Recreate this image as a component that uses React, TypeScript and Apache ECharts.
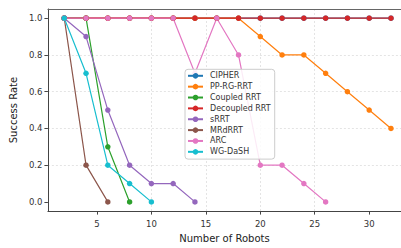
import React, { useEffect, useRef } from "react";
import * as echarts from "echarts";

const robots = [2, 4, 6, 8, 10, 12, 14, 16, 18, 20, 22, 24, 26, 28, 30, 32];
const cipher = [1, 1, 1, 1, 1, 1, 1, 1, 1, 1, 1, 1, 1, 1, 1, 1];
const ppRgRrt = [1, 1, 1, 1, 1, 1, 1, 1, 1, 0.9, 0.8, 0.8, 0.7, 0.6, 0.5, 0.4];
const coupledRrt = [1, 1, 0.3, 0.0];
const decoupledRrt = [1, 1, 1, 1, 1, 1, 1, 1, 1, 1, 1, 1, 1, 1, 1, 1];
const sRrt = [1, 0.9, 0.5, 0.2, 0.1, 0.1, 0.0];
const mrdRrt = [1, 0.2, 0.0];
const arc = [1, 1, 1, 1, 1, 1, 0.7, 1, 0.8, 0.2, 0.2, 0.1, 0.0];
const wgDash = [1, 0.7, 0.2, 0.1, 0.0];

const xTicks = [5, 10, 15, 20, 25, 30];
const yTicks = [0, 0.2, 0.4, 0.6, 0.8, 1.0];

const seriesDefs: [string, number[], string][] = [
  ["CIPHER", cipher, "#1f77b4"],
  ["PP-RG-RRT", ppRgRrt, "#ff7f0e"],
  ["Coupled RRT", coupledRrt, "#2ca02c"],
  ["Decoupled RRT", decoupledRrt, "#d62728"],
  ["sRRT", sRrt, "#9467bd"],
  ["MRdRRT", mrdRrt, "#8c564b"],
  ["ARC", arc, "#e377c2"],
  ["WG-DaSH", wgDash, "#17becf"],
];

export default function App() {
  const ref = useRef<HTMLDivElement>(null);
  useEffect(() => {
    if (!ref.current) return;
    const chart = echarts.init(ref.current, null, { renderer: "svg" });
    const font = "DejaVu Sans";
    const gridLine = {
      show: true,
      showMinLine: false,
      showMaxLine: false,
      lineStyle: { color: "#ddd", type: [2, 2], width: 0.8 },
    };
    chart.setOption({
      animation: false,
      textStyle: { fontFamily: font },
      grid: { left: 45, top: 9, bottom: 28, right: 0 },
      legend: {
        orient: "vertical",
        left: 185,
        top: 69.3,
        itemWidth: 15,
        itemHeight: 7,
        itemGap: 0.86,
        padding: [1.5, 4, 2.3, 2],
        backgroundColor: "rgba(255,255,255,0.85)",
        borderColor: "#ccc",
        borderWidth: 1,
        borderRadius: 3,
        textStyle: { fontFamily: font, fontSize: 8, lineHeight: 10, color: "#333", padding: [0, 0, 0, 2] },
        data: seriesDefs.map((d) => d[0]),
      },
      xAxis: [
        {
          type: "value",
          min: 0.5,
          max: 32.92,
          name: "Number of Robots",
          nameLocation: "middle",
          nameGap: 17,
          nameTextStyle: { fontFamily: font, fontSize: 10, color: "#222" },
          axisLine: { show: true, onZero: false, lineStyle: { color: "#444", width: 1 } },
          axisTick: { show: true, length: 3.5, customValues: xTicks, lineStyle: { color: "#444" } },
          axisLabel: { customValues: xTicks, fontFamily: font, fontSize: 8.5, color: "#333", margin: 8 },
          splitLine: gridLine,
        },
        {
          type: "value",
          position: "top",
          min: 0.5,
          max: 32.92,
          axisLine: { show: true, onZero: false, lineStyle: { color: "#666", width: 1 } },
          axisTick: { show: false },
          axisLabel: { show: false },
          splitLine: { show: false },
        },
      ],
      yAxis: {
        type: "value",
        min: -0.05,
        max: 1.05,
        name: "Success Rate",
        nameLocation: "middle",
        nameGap: 21,
        nameTextStyle: { fontFamily: font, fontSize: 10, color: "#222" },
        axisLine: { show: true, onZero: false, lineStyle: { color: "#444", width: 1 } },
        axisTick: { show: true, length: 3.5, customValues: yTicks, lineStyle: { color: "#444" } },
        axisLabel: {
          customValues: yTicks,
          fontFamily: font,
          fontSize: 8.5,
          color: "#333",
          margin: 5.5,
          formatter: (v: number) => v.toFixed(1),
        },
        splitLine: gridLine,
      },
      series: seriesDefs.map(([name, vals, color]) => ({
        name,
        type: "line",
        xAxisIndex: 0,
        data: vals.map((v, i) => [robots[i], v]),
        symbol: "circle",
        symbolSize: 5.5,
        showSymbol: true,
        color,
        lineStyle: { color, width: 1.2 },
        itemStyle: { color },
        emphasis: { disabled: true },
      })),
    });
    return () => chart.dispose();
  }, []);
  return <div ref={ref} style={{ width: 401, height: 248, position: "absolute", left: 0, top: 0 }} />;
}
